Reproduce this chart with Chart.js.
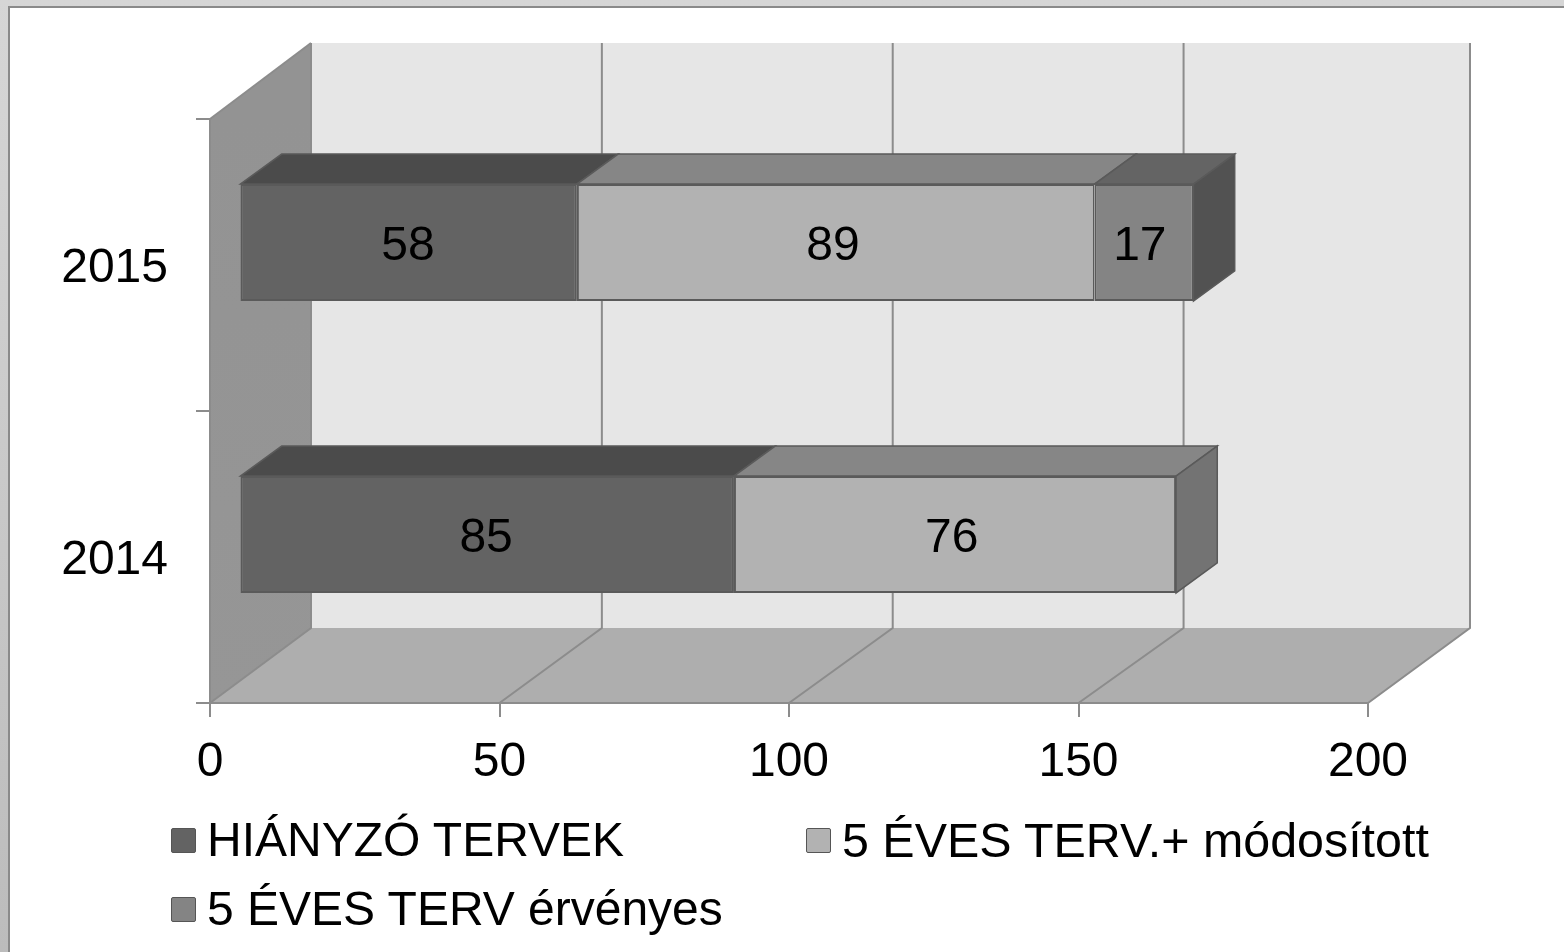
<!DOCTYPE html>
<html>
<head>
<meta charset="utf-8">
<title>Tervek</title>
<script src="https://cdn.jsdelivr.net/npm/chart.js@4/dist/chart.umd.min.js"></script>
<style>
    html, body { margin: 0; padding: 0; width: 1564px; height: 952px; overflow: hidden; }
    body { position: relative; background: linear-gradient(#d6d6d6, #bcbcbc); font-family: "Liberation Sans", Arial, sans-serif; }
    #frame { position: absolute; left: 8px; top: 6px; right: 0; bottom: 0; background: #fff; border-left: 2px solid #8a8a8a; border-top: 2px solid #8a8a8a; }
    #chart { position: absolute; left: 0; top: 0; }
    .legend-item { position: absolute; display: flex; align-items: center; font-size: 48px; line-height: 54px; color: #000; white-space: nowrap; }
    .legend-box { width: 23px; height: 23px; border: 1.5px solid #555; border-radius: 2px; margin-right: 11px; }
</style>
</head>
<body>
<div id="frame"></div>
<canvas id="chart" width="1564" height="952"></canvas>
<div id="legend"></div>
<script>
// Chart data
const years = ['2014', '2015'];
const seriesNames = ['HIÁNYZÓ TERVEK', '5 ÉVES TERV.+ módosított', '5 ÉVES TERV érvényes'];
const missingPlans = [85, 58];
const modifiedPlans = [76, 89];
const validPlans = [0, 17];

// Colours per series
const frontColors = ['#636363', '#b2b2b2', '#848484'];
const topColors = ['#4b4b4b', '#868686', '#646464'];
const sideColors = ['#4b4b4b', '#737373', '#525252'];
const edgeColor = '#5a5a5a';
const gridColor = '#8c8c8c';

// 3D look: wall depth and how far the bars sit inside it
const WALL_DX = 101, WALL_DY = -75;
const BAR_DX = 29.5, BAR_DY = -22.5;
const DEPTH_DX = 41, DEPTH_DY = -30;
// the inner plane of the box is a little wider than the front axis
const INNER_STRETCH = 1.0047;

function fillPoly(ctx, points, fill, stroke, lineWidth) {
    ctx.beginPath();
    points.forEach((p, i) => i ? ctx.lineTo(p[0], p[1]) : ctx.moveTo(p[0], p[1]));
    ctx.closePath();
    ctx.fillStyle = fill;
    ctx.fill();
    if (stroke) {
        ctx.strokeStyle = stroke;
        ctx.lineWidth = lineWidth || 1.5;
        ctx.stroke();
    }
}

// Back wall, side wall and floor
const wallsPlugin = {
    id: 'walls',
    beforeDraw(chart) {
        const { ctx, chartArea: a, scales } = chart;
        const bx = a.left + WALL_DX, by = a.top + WALL_DY - 1;
        const rx = a.right + WALL_DX + 1, fy = a.bottom + WALL_DY;
        ctx.save();
        fillPoly(ctx, [[bx, by], [rx, by], [rx, fy], [bx, fy]], '#e6e6e6');
        const side = ctx.createLinearGradient(0, a.top, 0, a.bottom);
        side.addColorStop(0, '#939393');
        side.addColorStop(1, '#969696');
        fillPoly(ctx, [[a.left, a.top], [bx, by], [bx, fy], [a.left, a.bottom]], side);
        fillPoly(ctx, [[a.left, a.bottom], [a.right, a.bottom], [rx, fy], [bx, fy]], '#aeaeae');

        ctx.strokeStyle = gridColor;
        ctx.lineWidth = 2;
        scales.x.ticks.forEach(tick => {
            const x = scales.x.getPixelForValue(tick.value);
            const wallX = Math.min(bx + (x - a.left) * INNER_STRETCH, rx);
            ctx.beginPath();
            ctx.moveTo(x, a.bottom);
            ctx.lineTo(wallX, fy);
            ctx.lineTo(wallX, by);
            ctx.stroke();
        });
        ctx.beginPath();
        ctx.moveTo(a.left, a.top);
        ctx.lineTo(bx, by);
        ctx.stroke();
        ctx.restore();
    }
};

// Top and end faces of the bars, and the value labels
const bars3dPlugin = {
    id: 'bars3d',
    beforeDatasetsDraw(chart) {
        const ctx = chart.ctx;
        const left = chart.chartArea.left;
        ctx.save();
        ctx.translate(BAR_DX + left, BAR_DY);
        ctx.scale(INNER_STRETCH, 1);
        ctx.translate(-left, 0);
        years.forEach((year, i) => {
            let last = -1;
            chart.data.datasets.forEach((ds, d) => {
                if (!ds.data[i]) return;
                last = d;
                const bar = chart.getDatasetMeta(d).data[i];
                const top = bar.y - bar.height / 2;
                fillPoly(ctx, [[bar.base, top], [bar.x, top], [bar.x + DEPTH_DX, top + DEPTH_DY], [bar.base + DEPTH_DX, top + DEPTH_DY]], topColors[d], edgeColor);
            });
            const bar = chart.getDatasetMeta(last).data[i];
            const top = bar.y - bar.height / 2, bottom = bar.y + bar.height / 2;
            fillPoly(ctx, [[bar.x, top], [bar.x + DEPTH_DX, top + DEPTH_DY], [bar.x + DEPTH_DX, bottom + DEPTH_DY], [bar.x, bottom]], sideColors[last], edgeColor);
        });
    },
    afterDatasetsDraw(chart) {
        const ctx = chart.ctx;
        ctx.restore();
        ctx.save();
        ctx.translate(BAR_DX, BAR_DY);
        ctx.font = '48px "Liberation Sans", Arial, sans-serif';
        ctx.fillStyle = '#000';
        ctx.textAlign = 'center';
        ctx.textBaseline = 'middle';
        chart.data.datasets.forEach((ds, d) => {
            chart.getDatasetMeta(d).data.forEach((bar, i) => {
                if (!ds.data[i]) return;
                ctx.fillText(ds.data[i], (bar.base + bar.x) / 2, bar.y + 4);
            });
        });
        ctx.restore();
    }
};

const seriesData = [missingPlans, modifiedPlans, validPlans];

new Chart(document.getElementById('chart').getContext('2d'), {
    type: 'bar',
    data: {
        labels: years,
        datasets: seriesNames.map((name, i) => ({
            label: name,
            data: seriesData[i],
            backgroundColor: frontColors[i],
            borderColor: edgeColor,
            borderWidth: 2,
            borderSkipped: false,
            barPercentage: 0.4,
            categoryPercentage: 1,
            clip: false
        }))
    },
    options: {
        indexAxis: 'y',
        responsive: false,
        animation: false,
        devicePixelRatio: 1,
        layout: { padding: { top: 119, right: 196, left: 0, bottom: 0 } },
        plugins: { legend: { display: false }, tooltip: { enabled: false } },
        scales: {
            x: {
                stacked: true,
                min: 0,
                max: 200,
                afterFit: scale => { scale.height = 249; },
                grid: { drawOnChartArea: false, color: gridColor, lineWidth: 2, tickLength: 14 },
                border: { color: gridColor, width: 2 },
                ticks: {
                    stepSize: 50,
                    padding: 17,
                    maxRotation: 0,
                    color: '#000',
                    font: { family: '"Liberation Sans", Arial, sans-serif', size: 48 }
                }
            },
            y: {
                stacked: true,
                reverse: true,
                afterFit: scale => { scale.width = 210; },
                grid: { drawOnChartArea: false, color: gridColor, lineWidth: 2, tickLength: 14 },
                border: { color: gridColor, width: 2 },
                ticks: {
                    padding: 28,
                    labelOffset: 4,
                    color: '#000',
                    font: { family: '"Liberation Sans", Arial, sans-serif', size: 48 }
                }
            }
        }
    },
    plugins: [wallsPlugin, bars3dPlugin]
});

// Legend, two columns like the original
const legendSpots = [[171, 813], [806, 813], [171, 882]];
const legendSizes = [48, 48.4, 48];
const legendEl = document.getElementById('legend');
seriesNames.forEach((name, i) => {
    const item = document.createElement('div');
    item.className = 'legend-item';
    item.style.left = legendSpots[i][0] + 'px';
    item.style.top = legendSpots[i][1] + 'px';
    item.style.fontSize = legendSizes[i] + 'px';
    const box = document.createElement('span');
    box.className = 'legend-box';
    box.style.background = frontColors[i];
    item.appendChild(box);
    item.appendChild(document.createTextNode(name));
    legendEl.appendChild(item);
});
</script>
</body>
</html>
